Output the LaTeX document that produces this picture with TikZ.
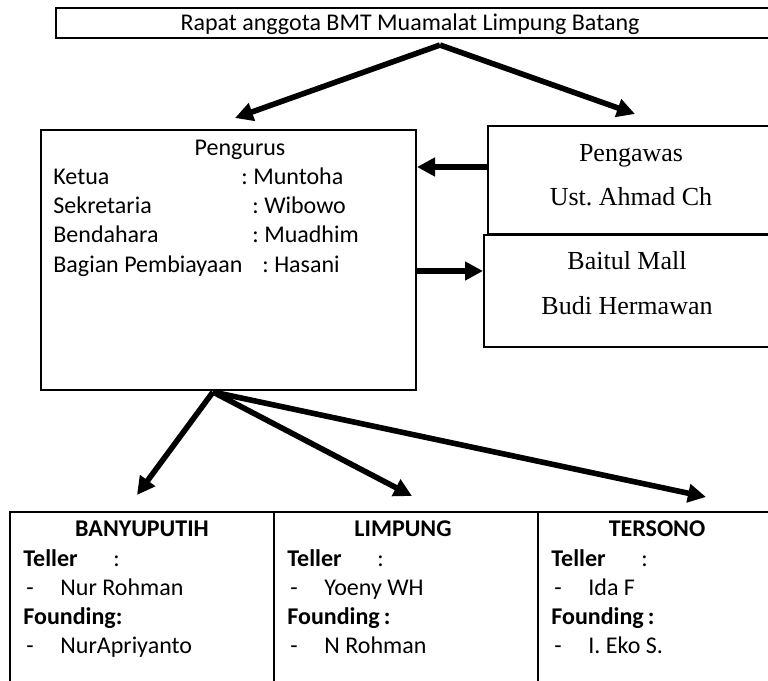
\documentclass[tikz,border=0pt]{standalone}
\usepackage{fontspec}
\setmainfont{Carlito}
\newfontfamily\timesfont{Liberation Serif}
\usetikzlibrary{arrows.meta, positioning, calc}

\begin{document}
\frenchspacing
\begin{tikzpicture}[x=0.5pt, y=-0.5pt, >={Triangle[length=9pt, width=9pt]},
		every node/.style={font=\fontsize{12}{14.5}\selectfont, inner sep=0pt},
		box/.style={draw, line width=1pt, anchor=north west},
		txt/.style={anchor=base west},
		tebal/.style={font=\bfseries\fontsize{12}{14.5}\selectfont},
		flow/.style={->, line width=2.8pt},
		serif/.style={font=\timesfont\fontsize{13}{22}\selectfont, align=center}]
	\useasboundingbox (0,0) rectangle (768,681);
	% rapat anggota on top
	\node[box, minimum width=367pt, minimum height=15pt] (rapat) at (55,7) {};
	\node[anchor=base] (rapatlbl) at (410,30) {Rapat anggota BMT Muamalat Limpung Batang};
	% pengurus with its members
	\node[box, minimum width=187.5pt, minimum height=130pt] (pengurus) at (40,129) {};
	\node[anchor=base] (pengurusjudul) at (240,155) {Pengurus};
	\foreach \y/\jab/\cx/\nama in {184/Ketua/241/Muntoha, 213/Sekretaria/252/Wibowo,
			242/Bendahara/252/Muadhim, 272/Bagian Pembiayaan/262/Hasani}{
		\node[txt] (jab\y) at (53,\y) {\jab};
		\node[txt] (nama\y) at (\cx,\y) {: \nama};
	}
	% pengawas and baitul mall
	\node[box, minimum width=152pt, minimum height=54pt] (pengawas) at (487,125) {};
	\node[serif] (pengawaslbl) at (631,175) {Pengawas\\Ust. Ahmad Ch};
	\node[box, minimum width=154pt, minimum height=56pt] (baitul) at (483,234) {};
	\node[serif, font=\timesfont\fontsize{13}{22.5}\selectfont] (baitullbl) at (627,283) {Baitul Mall\\Budi Hermawan};
	% the three branches
	\foreach \col/\L/\tc/\judul/\namaa/\fnd/\namab in {a/9/142/BANYUPUTIH/Nur Rohman/Founding/NurApriyanto,
			b/273/403/LIMPUNG/Yoeny WH/Founding\,/N Rohman,
			c/537/657/TERSONO/Ida F/Founding\,/I. Eko S.}{
		\node[box, minimum width=132pt, minimum height=100pt] (cab\col) at (\L,511) {};
		\node[tebal, anchor=base] (judul\col) at (\tc,536) {\judul};
		\node[tebal, txt] (teller\col) at (\L+14,566) {Teller};
		\node[txt] (tellerc\col) at (\L+104,566) {:};
		\node[txt] (dasha\col) at (\L+17,595) {-};
		\node[txt] (namaa\col) at (\L+51,595) {\namaa};
		\node[tebal, txt] (fnd\col) at (\L+14,624) {\fnd:};
		\node[txt] (dashb\col) at (\L+17,653) {-};
		\node[txt] (namab\col) at (\L+51,653) {\namab};
	}
	% arrows
	\coordinate (apex) at (440,45);
	\coordinate (tipkiri) at (235,118);
	\coordinate (tipkanan) at (635,114);
	\draw[flow] (apex) -- (tipkiri);
	\draw[flow] (apex) -- (tipkanan);
	\draw[flow] (pengawas.west |- 0,167) -- (pengurus.east |- 0,167);
	\draw[flow] (pengurus.east |- 0,271) -- (baitul.west |- 0,271);
	\coordinate (fork) at (213,392);
	\coordinate (tipa) at (137,495);
	\coordinate (tipb) at (412,496);
	\coordinate (tipc) at (706,497);
	\foreach \t in {tipa, tipb, tipc}
		\draw[flow] (fork) -- (\t);
\end{tikzpicture}
\end{document}
